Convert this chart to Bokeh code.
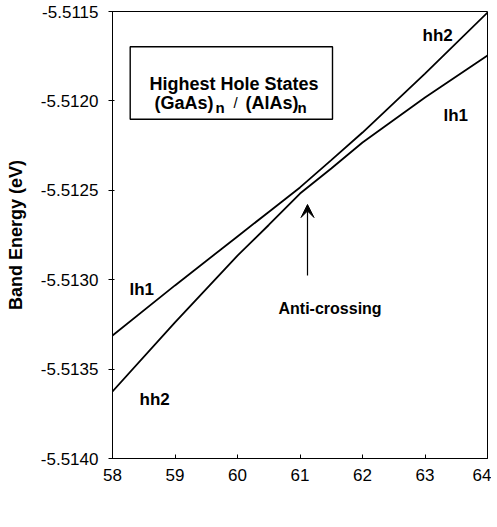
from bokeh.plotting import figure
from bokeh.models import (Range1d, FixedTicker, PrintfTickFormatter, Label,
                          BoxAnnotation, Arrow, VeeHead)
from bokeh.embed import file_html
from bokeh.resources import INLINE

# ---- data ----
n_layers = [58, 59, 60, 60.5, 61, 61.5, 62, 63, 64]
upper_branch = [-5.513312, -5.513032, -5.512758, -5.512621, -5.512484,
                -5.512331, -5.512177, -5.511847, -5.511506]
lower_branch = [-5.513625, -5.513239, -5.512865, -5.512694, -5.512518,
                -5.512378, -5.512233, -5.511981, -5.511746]
x_ticks = [58, 59, 60, 61, 62, 63, 64]
y_ticks = [-5.5140, -5.5135, -5.5130, -5.5125, -5.5120, -5.5115]

X0, X1 = 58, 64
Y0, Y1 = -5.5140, -5.5115
FRAME_W, FRAME_H = 375, 447
FRAME_LEFT, FRAME_TOP = 115, 13  # page pixels


def at(px, py):
    """page-pixel position -> data coordinates (for annotation placement)"""
    return (X0 + (px - FRAME_LEFT) / FRAME_W * (X1 - X0),
            Y1 - (py - FRAME_TOP) / FRAME_H * (Y1 - Y0))


FONT = "Liberation Sans"

p = figure(width=491, height=515, output_backend="svg", toolbar_location=None,
           x_range=Range1d(X0, X1), y_range=Range1d(Y0, Y1),
           min_border_left=112, min_border_right=4, min_border_top=11,
           min_border_bottom=57)
p.background_fill_color = "white"
p.border_fill_color = "white"
p.outline_line_color = "black"
p.outline_line_width = 1
p.xgrid.visible = False
p.ygrid.visible = False

p.line(n_layers, upper_branch, line_color="black", line_width=1.8)
p.line(n_layers, lower_branch, line_color="black", line_width=1.8)

# axes
p.xaxis.ticker = FixedTicker(ticks=x_ticks)
p.yaxis.ticker = FixedTicker(ticks=y_ticks)
p.yaxis.formatter = PrintfTickFormatter(format="%.4f")
for ax in (p.xaxis[0], p.yaxis[0]):
    ax.axis_line_color = "black"
    ax.major_tick_line_color = "black"
    ax.minor_tick_line_color = None
    ax.major_label_text_font = FONT
    ax.major_label_text_font_size = "17px"
    ax.major_label_text_color = "black"
p.xaxis.major_tick_in = 4
p.xaxis.major_tick_out = 0
p.xaxis.major_label_standoff = 10
p.yaxis.major_tick_in = 2
p.yaxis.major_tick_out = 4
p.yaxis.major_label_standoff = 10
p.yaxis.axis_label = "Band Energy (eV)"
p.yaxis.axis_label_text_font = FONT
p.yaxis.axis_label_text_font_size = "18px"
p.yaxis.axis_label_text_font_style = "bold"
p.yaxis.axis_label_text_color = "black"
p.yaxis.axis_label_standoff = 12

# title box
bl, bt = at(132.7, 48.3)
br, bb = at(335, 120.7)
p.add_layout(BoxAnnotation(left=bl, right=br, top=bt, bottom=bb,
                           fill_color="white", fill_alpha=1.0,
                           line_color="black", line_alpha=1.0, line_width=1.4))


def lab(text, px, py, size, style="bold"):
    x, y = at(px, py)
    p.add_layout(Label(x=x, y=y, text=text, text_font=FONT,
                       text_font_size=size, text_font_style=style,
                       text_color="black", text_align="left",
                       text_baseline="alphabetic"))


lab("Highest Hole States", 152, 85, "18px")
lab("(GaAs)", 157, 104, "18px")
lab("n", 218, 108.5, "15px")
lab("/", 236, 104, "15px", "normal")
lab("(AlAs)", 248, 104, "18px")
lab("n", 300, 108.5, "15px")

lab("hh2", 425, 37, "17px")
lab("lh1", 446, 117, "17px")
lab("lh1", 132, 291, "17px")
lab("hh2", 142, 401, "17px")
lab("Anti-crossing", 281, 310, "16px")

ax0, ay0 = at(310, 277)
ax1, ay1 = at(310, 206)
p.add_layout(Arrow(end=VeeHead(size=13, fill_color="black", line_color="black"),
                   x_start=ax0, y_start=ay0, x_end=ax1, y_end=ay1,
                   line_color="black", line_width=1.2))

open("out.html", "w").write(file_html(p, INLINE))
